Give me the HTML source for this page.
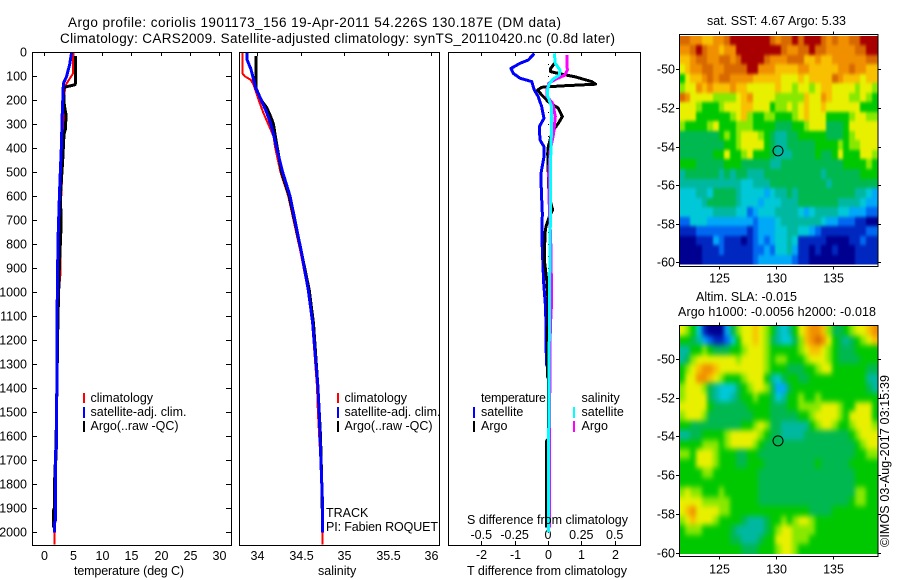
<!DOCTYPE html>
<html lang="en">
<head>
<meta charset="utf-8">
<title>Argo profile 1901173_156</title>
<style>
html,body{margin:0;padding:0;background:#fff;width:900px;height:580px;overflow:hidden}
svg{display:block}
text{font-family:"Liberation Sans",sans-serif;font-size:12.5px;fill:#000}
.t{font-size:13.5px}
</style>
</head>
<body>
<svg id="chart" xmlns="http://www.w3.org/2000/svg" width="900" height="580" viewBox="0 0 900 580">
  <defs>
    <filter id="sst-smooth" filterUnits="userSpaceOnUse" x="650" y="10" width="250" height="280" color-interpolation-filters="sRGB"><feGaussianBlur stdDeviation="1 1.5"/></filter>
    <filter id="sla-smooth" filterUnits="userSpaceOnUse" x="650" y="300" width="250" height="280" color-interpolation-filters="sRGB"><feGaussianBlur stdDeviation="2 3"/></filter>
    <clipPath id="sst-clip"><rect x="680" y="36" width="198" height="228.5"/></clipPath>
    <clipPath id="sla-clip"><rect x="680" y="326" width="198" height="228"/></clipPath>
  </defs>
  <rect x="0" y="0" width="900" height="580" fill="#fff"/>
  <text class="t" x="68" y="27" textLength="493">Argo profile: coriolis 1901173_156 19-Apr-2011 54.226S 130.187E (DM data)</text>
  <text class="t" x="60" y="43" textLength="555">Climatology: CARS2009. Satellite-adjusted climatology: synTS_20110420.nc (0.8d later)</text>

  <g id="profiles"></g>
  <g clip-path="url(#sst-clip)"><g id="sst-cells" filter="url(#sst-smooth)"></g></g>
  <g clip-path="url(#sla-clip)"><g id="sla-cells" filter="url(#sla-smooth)"></g></g>
  <g id="maps"></g>

  <rect x="32.5" y="52.5" width="199" height="493" fill="none" stroke="#000"/>
  <rect x="239.5" y="52.5" width="200" height="493" fill="none" stroke="#000"/>
  <rect x="448.5" y="52.5" width="192" height="493" fill="none" stroke="#000"/>
  <rect x="679.5" y="34.5" width="198.5" height="232" fill="none" stroke="#000"/>
  <rect x="679.5" y="325.5" width="198.5" height="231" fill="none" stroke="#000"/>

  <g>
    <rect x="83" y="393" width="2" height="10" fill="#f00"/>
    <rect x="83" y="407" width="2" height="11" fill="#00f"/>
    <rect x="83" y="421" width="2" height="11" fill="#000"/>
    <text x="90.5" y="402" font-size="12">climatology</text>
    <text x="90.5" y="416" textLength="96">satellite-adj. clim.</text>
    <text x="90.5" y="430" textLength="88">Argo(..raw -QC)</text>
  </g>
  <g>
    <rect x="337" y="393" width="2" height="10" fill="#f00"/>
    <rect x="337" y="407" width="2" height="11" fill="#00f"/>
    <rect x="337" y="421" width="2" height="11" fill="#000"/>
    <text x="344.5" y="402">climatology</text>
    <text x="344.5" y="416" textLength="96">satellite-adj. clim.</text>
    <text x="344.5" y="430" textLength="88">Argo(..raw -QC)</text>
    <text x="326" y="517">TRACK</text>
    <text x="326" y="531" textLength="112">PI: Fabien ROQUET</text>
  </g>
  <g>
    <text x="481" y="402" textLength="65">temperature</text>
    <text x="581.5" y="402">salinity</text>
    <text x="481" y="416">satellite</text>
    <text x="481" y="430">Argo</text>
    <text x="581.5" y="416">satellite</text>
    <text x="581.5" y="430">Argo</text>
    <rect x="473" y="407" width="2" height="11" fill="#00f"/>
    <rect x="473" y="421" width="2" height="11" fill="#000"/>
    <rect x="573" y="407" width="2" height="11" fill="#0ff"/>
    <rect x="573" y="421" width="2" height="11" fill="#f0f"/>
  </g>

  <text x="74" y="575" textLength="110">temperature (deg C)</text>
  <text x="318" y="575">salinity</text>
  <text x="467" y="524" textLength="161">S difference from climatology</text>
  <text x="467" y="575" textLength="160">T difference from climatology</text>

  <text x="707" y="25" textLength="139">sat. SST: 4.67 Argo: 5.33</text>
  <text x="696" y="301" textLength="101">Altim. SLA: -0.015</text>
  <text x="678" y="316" textLength="198">Argo h1000: -0.0056 h2000: -0.018</text>
  <text transform="translate(889 547) rotate(-90)" textLength="172">©IMOS 03-Aug-2017 03:15:39</text>
</svg>

<script>
// ---------- profile data ----------
const depthTicks = [0,100,200,300,400,500,600,700,800,900,1000,1100,1200,1300,1400,1500,1600,1700,1800,1900,2000];
const tempTicks = [0,5,10,15,20,25,30];
const salTicks = [34,34.5,35,35.5,36];
const salTickLabels = ['34','34.5','35','35.5','36'];
const tDiffTicks = [-2,-1,0,1,2];
const sDiffTicks = [-0.5,-0.25,0,0.25,0.5];
const sDiffTickLabels = ['-0.5','-0.25','0','0.25','0.5'];

const tempClimDepth = [0,90,120,140,170,200,400,640,930,1000,1500,2050];
const tempClimValue = [5.1,5.0,4.2,3.7,3.6,3.5,3.4,2.95,2.87,2.6,2.2,1.9];
const tempSatDepth = [0,50,100,130,250,400,500,600,782,1115,1500,1650,1660,1950,1960,2000];
const tempSatValue = [4.8,4.47,3.95,3.4,3.2,3.04,2.87,2.72,2.47,2.3,2.25,2.25,2.05,2.05,1.9,1.9];
const tempArgoDepth = [15,130,135,145,150,220,260,320,340,450,550,600,720,900,1115,1700,1730,1900,1910,1980];
const tempArgoValue = [5.43,5.43,5.4,3.67,3.4,3.55,3.84,3.75,3.5,3.27,3.0,2.9,3.0,2.7,2.45,2.1,1.95,1.85,1.67,1.67];

const salClimDepth = [0,90,100,115,140,200,250,300,350,400,500,600,832,990,1130,1393,1500,1700,1800,1900,2050];
const salClimValue = [33.836,33.836,33.86,33.93,33.965,34.02,34.07,34.13,34.19,34.21,34.27,34.36,34.5,34.585,34.635,34.69,34.7,34.73,34.745,34.75,34.75];
const salSatDepth = [0,30,70,120,150,200,250,300,350,400,500,600,832,990,1130,1393,1500,1700,1800,1900,2000];
const salSatValue = [33.885,33.885,33.93,33.965,33.985,34.05,34.11,34.16,34.195,34.226,34.295,34.38,34.51,34.59,34.64,34.7,34.715,34.735,34.745,34.755,34.755];
const salArgoDepth = [15,120,150,200,230,270,300,340,400,500,600,832,990,1130,1393,1600,1800,2000];
const salArgoValue = [33.99,33.99,33.99,34.05,34.11,34.16,34.19,34.207,34.235,34.283,34.37,34.51,34.6,34.65,34.7,34.73,34.745,34.755];

const diffTSatDepth = [5,32,46,67,88,108,122,157,185,227,275,310,365,393,435,504,574,670,782,860,962,1071,1223,1303,1320,2000];
const diffTSatValue = [-0.41,-0.59,-0.84,-1.11,-1.04,-0.84,-0.49,-0.41,-0.29,-0.19,-0.12,-0.26,-0.24,-0.12,-0.12,-0.21,-0.2,-0.17,-0.18,-0.16,-0.13,-0.07,-0.06,-0.04,0.02,0.02];
const diffTArgoDepth = [43,67,81,88,102,122,133,140,146,157,178,206,233,268,296,324,351,393,421,600,657,685,726,753,865,948,1032,1350,1360,1610,1620,1980];
const diffTArgoValue = [0.21,0.08,0.08,0.31,0.81,1.31,1.43,0.41,-0.19,-0.31,-0.19,0.01,0.31,0.43,0.31,0.16,0.09,0.01,-0.01,0.03,0.14,0.04,-0.06,-0.09,-0.11,-0.04,0,-0.02,0.015,0.015,-0.045,-0.045];
const diffSSatDepth = [4,46,74,95,113,136,157,178,227,310,435,643,782,1352,1620,2000];
const diffSSatValue = [0.047,0.055,0.09,0.085,0.035,0.005,-0.003,-0.005,0.027,0.027,0.02,0.02,0.015,0.0075,0.005,0.003];
const diffSArgoDepth = [11,74,95,113,129,157,185,213,268,338,407,504,643,782,1032,1150,1500,1980];
const diffSArgoValue = [0.142,0.145,0.127,0.055,0.005,-0.007,-0.007,0.035,0.055,0.042,0.017,0.005,0.01,0.02,0.028,0.017,0.012,0.013];

// ---------- map data (colour level per cell) ----------
const lonTicks = [125,130,135];
const latTicks = [-50,-52,-54,-56,-58,-60];
const argoLon = 130.187;
const argoLat = -54.226;

const sstLevels = [
[12,12,11,11,10,10,11,11,12,13,13,13,13,13,13,13,12,11,12,12,13,12,13,13,13,12,11,12,11,11,12,12,13,13,13],
[11,11,12,13,12,11,11,10,11,11,13,13,13,13,13,13,13,13,12,11,11,12,12,13,12,12,11,11,11,11,11,12,12,13,13],
[10,10,11,12,12,11,11,12,12,11,12,13,13,13,13,12,11,11,11,12,12,12,10,10,11,10,10,11,11,11,11,11,11,12,12],
[9,10,11,11,12,12,11,11,12,12,12,12,13,13,11,11,11,10,10,10,10,11,11,10,10,10,10,10,11,11,12,11,11,10,10],
[7,9,10,10,11,12,11,12,12,11,11,11,11,10,10,10,10,10,9,9,9,10,9,10,10,10,10,12,11,10,10,10,9,10,10],
[8,9,9,11,10,11,10,10,10,11,10,10,9,9,9,9,9,10,9,9,8,9,9,8,9,10,10,9,9,9,9,8,9,9,8],
[12,11,9,9,9,9,8,8,8,8,9,10,11,9,9,9,9,8,8,8,8,8,10,9,9,11,10,9,9,9,8,8,9,8,7],
[9,9,9,8,7,7,7,8,9,9,9,10,10,9,9,9,7,8,8,9,8,9,10,9,9,10,9,9,9,9,9,9,7,7,7],
[9,9,9,7,7,7,7,7,7,8,9,10,8,7,7,8,8,7,7,7,8,9,10,9,9,9,7,7,7,7,8,9,9,8,8],
[8,7,7,7,7,8,9,7,7,7,8,8,8,7,7,7,7,6,6,6,7,7,8,9,9,9,6,6,6,7,9,9,9,9,9],
[6,6,6,6,6,6,6,7,8,7,8,9,9,9,8,7,6,5,5,6,6,7,7,7,7,7,6,6,6,7,8,9,9,9,9],
[6,6,6,6,6,6,6,6,7,7,8,9,9,9,9,7,6,5,5,6,6,6,6,6,7,7,7,7,8,7,8,8,9,9,9],
[6,6,6,6,6,6,7,7,9,7,7,8,9,7,7,7,6,5,5,5,6,6,6,6,7,6,6,7,9,7,7,7,9,9,8],
[7,7,7,6,6,6,6,6,7,7,7,6,6,6,6,6,5,5,6,6,6,6,6,6,6,6,6,6,6,7,7,7,7,8,7],
[5,6,6,6,6,6,6,5,6,5,6,6,5,5,5,6,6,6,6,6,6,6,6,6,6,5,6,6,6,6,6,6,7,7,7],
[5,5,5,5,5,5,5,5,5,5,5,4,4,5,5,5,6,6,6,6,6,6,6,6,6,6,5,6,6,6,6,6,6,6,6],
[4,4,4,5,5,4,6,6,6,6,5,4,4,4,4,3,4,5,5,6,5,6,6,6,6,6,6,6,6,6,6,5,5,4,3],
[4,4,4,4,5,6,6,6,6,6,5,4,4,4,3,4,4,4,5,5,5,6,6,6,6,6,6,6,5,5,5,5,4,3,3],
[4,4,4,4,4,4,5,5,5,5,4,4,2,3,4,4,4,5,5,5,5,4,3,4,5,5,5,5,4,4,3,3,3,2,2],
[2,2,4,4,4,3,3,3,3,3,3,3,3,2,3,3,3,4,5,5,5,5,5,5,5,4,3,3,2,2,2,1,1,0,0],
[1,1,1,2,2,2,2,2,2,2,2,2,1,2,3,3,3,4,4,5,5,4,4,3,2,1,1,1,1,1,1,1,1,2,2],
[0,0,0,1,1,1,3,2,1,1,1,0,1,2,3,2,3,4,4,5,4,1,1,1,1,1,0,0,0,0,1,1,2,1,1],
[0,0,0,0,1,1,1,2,1,1,1,1,1,2,2,3,2,4,4,5,3,1,1,0,1,0,0,1,0,0,0,1,1,1,1],
[0,0,0,0,1,1,1,1,1,1,1,1,1,2,3,3,3,3,3,3,2,1,1,0,0,0,0,0,0,0,0,1,1,1,1]
];

const slaLevels = [
[9,8,7,4,1,0,0,0,3,6,8,9,9,10,9,8,7,5,4,5,7,9,10,11,11,10,8,6,6,7,8,9,9,10,11],
[7,7,6,5,3,2,1,1,2,4,7,9,9,10,9,8,6,5,4,4,6,8,10,11,12,11,9,7,6,5,6,7,8,9,10],
[5,5,7,7,8,7,6,6,6,7,7,8,9,9,9,8,7,7,7,7,7,8,9,10,10,9,8,7,6,6,6,7,7,7,7],
[5,6,8,9,9,9,9,9,9,9,8,9,9,9,9,8,7,8,8,7,7,7,8,9,9,9,8,7,6,6,6,6,7,7,7],
[7,8,9,10,11,11,10,9,9,9,9,9,9,9,9,8,7,7,7,6,6,6,7,7,8,9,9,7,7,7,7,7,7,6,6],
[7,9,9,11,11,10,9,8,7,7,7,8,9,9,9,7,5,4,6,7,7,6,6,7,7,7,7,7,7,7,7,7,7,5,5],
[8,9,9,9,8,6,5,4,4,4,6,7,8,9,9,8,6,3,3,6,7,7,7,7,7,7,7,7,7,7,7,7,7,6,5],
[8,9,9,9,9,6,5,4,4,5,6,7,7,8,7,7,6,4,5,7,7,8,7,7,8,7,7,7,7,7,7,7,7,7,7],
[9,9,9,9,9,7,6,6,6,6,6,6,7,7,7,7,6,6,6,7,7,8,8,8,8,9,9,9,8,7,7,9,9,9,7],
[8,9,9,9,8,6,6,6,6,6,6,6,6,7,7,7,6,6,6,6,6,7,7,8,9,9,9,9,8,7,9,9,9,9,7],
[7,7,6,6,6,6,6,6,6,6,6,7,7,8,9,8,6,6,5,5,5,5,5,7,8,9,9,8,7,7,8,9,9,9,8],
[5,5,6,6,7,7,7,7,8,9,9,9,9,9,8,7,6,6,5,5,5,5,6,6,6,6,6,6,6,6,7,8,9,9,9],
[7,7,7,7,8,8,8,7,8,9,9,9,9,8,7,6,6,6,6,6,6,6,6,6,6,6,6,6,6,6,6,7,8,9,9],
[8,8,7,9,9,9,8,7,7,7,6,6,7,7,6,6,6,6,6,6,6,6,6,6,6,6,6,6,6,6,6,7,7,8,8],
[7,7,7,9,9,9,8,7,7,7,6,6,7,7,7,6,6,6,6,6,6,6,6,6,7,6,6,6,6,6,7,7,7,7,7],
[7,7,7,7,8,8,7,7,7,7,7,7,7,7,6,6,6,6,6,6,6,6,6,6,6,6,6,6,6,6,6,7,7,7,7],
[7,7,7,7,7,7,7,7,7,7,7,7,7,7,6,6,6,6,6,6,6,6,6,6,6,6,6,6,6,6,6,7,7,7,7],
[8,9,8,8,7,7,7,8,7,7,7,7,7,7,6,6,6,6,6,6,6,6,6,6,6,6,6,6,6,6,6,8,8,7,7],
[9,9,9,9,8,8,8,8,8,7,7,7,7,7,6,6,6,6,6,6,6,6,6,6,6,6,6,6,6,6,7,8,8,7,7],
[9,10,11,9,9,9,9,8,8,7,7,7,7,7,7,7,7,7,7,7,7,7,7,6,6,6,6,7,7,7,7,7,7,7,7],
[8,9,10,9,9,9,8,7,7,7,7,6,5,5,5,6,7,7,8,7,8,9,9,8,7,7,7,7,7,7,7,7,7,7,7],
[7,8,8,8,7,7,7,7,7,6,5,5,5,5,5,6,7,8,9,9,8,8,8,8,7,7,7,7,7,7,7,7,7,7,7],
[7,7,7,7,7,7,7,7,7,6,6,5,5,5,6,7,7,9,9,9,8,8,8,7,7,7,7,7,7,7,7,7,7,7,7],
[7,7,7,7,7,7,7,7,7,7,7,6,6,6,7,7,7,8,9,9,8,7,7,7,7,7,7,7,7,7,7,7,7,7,7]
];

// ---------- axis functions ----------
const NS = 'http://www.w3.org/2000/svg';
const yDepth = d => 52.3 + 0.24 * d;
const xTemp = t => 43.5 + 5.86 * t;
const xSal = s => 257 + 87 * (s - 34);
const xDiffT = v => 548 + 33.35 * v;
const xDiffS = v => 548 + 133.4 * v;
const xLon = lon => 775.9 + 11.32 * (lon - 130);
const ySst = lat => 69.3 - 19.3 * (lat + 50);
const ySla = lat => 359 - 19.37 * (lat + 50);
const palette = ['#000090','#0028c0','#0068f0','#00a8f8','#00c8d8','#00b8a0','#00b850','#00c800','#88e800','#e8f000','#f8c000','#f09000','#d86800','#a80000'];

const profiles = document.getElementById('profiles');
const maps = document.getElementById('maps');

function make(tag, parent, props) {
  const el = document.createElementNS(NS, tag);
  for (const k in props) el.setAttribute(k, props[k]);
  parent.appendChild(el);
  return el;
}

function profileLine(name, depths, values, xFn, color, width) {
  const pts = depths.map((d, i) => xFn(values[i]).toFixed(1) + ',' + yDepth(d).toFixed(1)).join(' ');
  const el = make('polyline', profiles, {points: pts, fill: 'none', stroke: color, 'stroke-width': width, 'shape-rendering': 'crispEdges', 'stroke-linejoin': 'round'});
  
  
}

function tickLine(parent, x1, y1, x2, y2) {
  const el = make('line', parent, {x1: x1, y1: y1, x2: x2, y2: y2, stroke: '#000', 'stroke-width': 1, 'shape-rendering': 'crispEdges'});
  
  
}

function tickLabel(parent, str, x, y, anchor) {
  const el = make('text', parent, {x: x, y: y, 'text-anchor': anchor});
  el.textContent = str;
  
  
}

// depth axis
depthTicks.forEach(d => {
  const y = Math.round(yDepth(d)) + 0.5;
  tickLine(profiles, 32, y, 37, y);
  tickLine(profiles, 226, y, 231, y);
  tickLabel(profiles, String(d), 27, y + 4, 'end');
});

// top x ticks + labels
tempTicks.forEach(t => {
  const x = Math.round(xTemp(t)) + 0.5;
  tickLine(profiles, x, 52, x, 56);
  tickLabel(profiles, String(t), x, 560, 'middle');
});
salTicks.forEach((s, i) => {
  const x = Math.round(xSal(s)) + 0.5;
  tickLine(profiles, x, 52, x, 56);
  tickLabel(profiles, salTickLabels[i], x, 560, 'middle');
});
tDiffTicks.forEach(v => {
  const x = Math.round(xDiffT(v)) + 0.5;
  tickLine(profiles, x, 52, x, 56);
  tickLine(profiles, x, 541, x, 545);
  tickLabel(profiles, String(v), x, 559, 'middle');
});
sDiffTicks.forEach((v, i) => {
  tickLabel(profiles, sDiffTickLabels[i], xDiffS(v), 539, 'middle');
});

// zero reference line
const zeroLine = make('line', profiles, {x1: xDiffT(0) + 0.5, y1: 52, x2: xDiffT(0) + 0.5, y2: 545, stroke: '#000', 'stroke-width': 1, 'stroke-dasharray': '1 11', 'shape-rendering': 'crispEdges'});



// series
profileLine('temperature-climatology-line', tempClimDepth, tempClimValue, xTemp, '#f00', 2);
profileLine('temperature-argo-line', tempArgoDepth, tempArgoValue, xTemp, '#000', 3);
profileLine('temperature-satellite-line', tempSatDepth, tempSatValue, xTemp, '#00f', 3);
profileLine('salinity-climatology-line', salClimDepth, salClimValue, xSal, '#f00', 2);
profileLine('salinity-argo-line', salArgoDepth, salArgoValue, xSal, '#000', 3);
profileLine('salinity-satellite-line', salSatDepth, salSatValue, xSal, '#00f', 3);
profileLine('t-diff-satellite-line', diffTSatDepth, diffTSatValue, xDiffT, '#00f', 3);
profileLine('t-diff-argo-line', diffTArgoDepth, diffTArgoValue, xDiffT, '#000', 3);
profileLine('s-diff-argo-line', diffSArgoDepth, diffSArgoValue, xDiffS, '#f0f', 3);
profileLine('s-diff-satellite-line', diffSSatDepth, diffSSatValue, xDiffS, '#0ff', 3);

// maps
function drawMap(levels, cellsGroup, yFn, latTop, latStep, cellName, top, frameHeight) {
  const lonStart = 121.45;
  const lonStep = 0.5;
  const bleed = 12; // edge cells run past the clip so smoothing does not fade at the frame
  levels.forEach((row, j) => {
    row.forEach((lev, i) => {
      let x0 = Math.round(xLon(lonStart + i * lonStep));
      let x1 = Math.round(xLon(lonStart + (i + 1) * lonStep));
      let y0 = Math.round(yFn(latTop - j * latStep));
      let y1 = Math.round(yFn(latTop - (j + 1) * latStep));
      if (i === 0) x0 -= bleed;
      if (i === row.length - 1) x1 += bleed;
      if (j === 0) y0 -= bleed;
      if (j === levels.length - 1) y1 += bleed;
      const cell = make('rect', cellsGroup, {x: x0, y: y0, width: x1 - x0, height: y1 - y0, fill: palette[lev], 'shape-rendering': 'crispEdges'});
      
      
    });
  });
  lonTicks.forEach(lon => {
    const x = Math.round(xLon(lon)) + 0.5;
    tickLine(maps, x, top - 3, x, top);
    tickLine(maps, x, top + frameHeight, x, top + frameHeight + 3);
    tickLabel(maps, String(lon), x, top + 248, 'middle');
  });
  latTicks.forEach(lat => {
    const y = Math.round(yFn(lat)) + 0.5;
    tickLine(maps, 676, y, 679, y);
    tickLine(maps, 878, y, 881, y);
    tickLabel(maps, String(lat), 675, y + 4, 'end');
  });
  const marker = make('circle', maps, {cx: xLon(argoLon), cy: yFn(argoLat), r: 5, fill: 'none', stroke: '#000', 'stroke-width': 1});
  
  
}

drawMap(sstLevels, document.getElementById('sst-cells'), ySst, -48.25, 0.494, 'sst-cell', 34.5, 232);
drawMap(slaLevels, document.getElementById('sla-cells'), ySla, -48.3, 0.49, 'sla-cell', 325.5, 231);
</script>
</body>
</html>
